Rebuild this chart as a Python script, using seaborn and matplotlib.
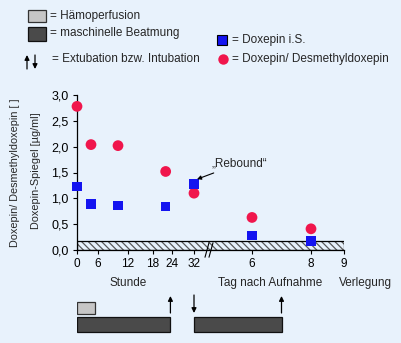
import numpy as np
import matplotlib
matplotlib.use("Agg")
import matplotlib.pyplot as plt
import seaborn as sns
from matplotlib.patches import Rectangle
from matplotlib.lines import Line2D

# time of each sample, in hours after admission (days 6 and 8 -> 144 h, 192 h)
time_h = [0, 4, 10, 22, 32, 144, 192]
doxepin_is = [1.23, 0.89, 0.86, 0.84, 1.28, 0.28, 0.18]
dox_desmethyl = [2.78, 2.04, 2.02, 1.52, 1.10, 0.63, 0.41]

# x tick labels (hours 0..32, then days 6, 8, 9)
tick_h = [0, 6, 12, 18, 24, 32, 144, 192, 216]
tick_labels = ["0", "6", "12", "18", "24", "32", "6", "8", "9"]
y_ticks = [0.0, 0.5, 1.0, 1.5, 2.0, 2.5, 3.0]

# treatment intervals (hours)
haemoperfusion = (0, 5)
ventilation = [(0, 23.5), (32, 168)]
extubation_h = [23.5, 168]
intubation_h = [32]

# broken axis: hours -> horizontal position
anchor_pos = [0, 21, 51, 76, 95, 117, 175, 234, 267]


def pos(h):
    return np.interp(h, tick_h, anchor_pos)


BG = "#E8F2FC"
RED = "#F0164C"
BLUE = "#1414F0"
DARK = "#4A4A4A"
LIGHT = "#C6C6C6"
FS = 8.5

sns.set_theme(style="white")
plt.rcParams["font.family"] = ["Liberation Sans", "DejaVu Sans"]
plt.rcParams["font.size"] = FS
plt.rcParams["hatch.linewidth"] = 0.9

W, H = 401, 343
fig = plt.figure(figsize=(W / 100, H / 100), dpi=100, facecolor=BG)


def fx(px):
    return px / W


def fy(py):
    return 1 - py / H


ax = fig.add_axes([fx(77), fy(250), 267 / W, 155 / H])
ax.set_facecolor("none")

# detection limit band
ax.add_patch(Rectangle((0, 0), 267, 0.17, facecolor="none",
                       edgecolor="#5a5a5a", hatch="\\" * 5, lw=0, zorder=1))
ax.add_patch(Rectangle((0, 0), 267, 0.17, facecolor="none",
                       edgecolor="black", lw=0.9, zorder=1))

sns.scatterplot(x=pos(time_h), y=dox_desmethyl, ax=ax, marker="o", s=60,
                color=RED, edgecolor="none", zorder=3, clip_on=False)
sns.scatterplot(x=pos(time_h), y=doxepin_is, ax=ax, marker="s", s=48,
                color=BLUE, edgecolor="none", zorder=3, clip_on=False)

ax.set_xlim(0, 267)
ax.set_ylim(0, 3.0)
ax.set_yticks(y_ticks)
ax.set_yticklabels([f"{v:.1f}".replace(".", ",") for v in y_ticks], fontsize=9)
ax.set_xticks(pos(tick_h))
ax.set_xticklabels(tick_labels, fontsize=FS)
for i, t in enumerate(ax.xaxis.get_major_ticks()):
    if i in (1, 2, 3, 4):
        t.tick1line.set_visible(False)
ax.tick_params(axis="both", direction="out", length=3, width=0.8, color="black",
               pad=3, left=True, bottom=True, labelcolor="black")
for s in ["top", "right"]:
    ax.spines[s].set_visible(False)
for s in ["left", "bottom"]:
    ax.spines[s].set_color("black")
    ax.spines[s].set_linewidth(0.9)

# axis break marks
for dx in (0, 4):
    ax.add_line(Line2D([128 + dx, 132 + dx], [-0.14, 0.14], color="black",
                       lw=0.8, clip_on=False, zorder=4))

ax.annotate("\u201eRebound\u201c", xy=(pos(32) + 3, 1.37), xytext=(pos(32) + 18, 1.68),
            fontsize=FS, ha="left", va="center",
            arrowprops=dict(arrowstyle="-|>", color="black", lw=0.8,
                            mutation_scale=6, shrinkA=1, shrinkB=0))

# axis titles
fig.text(fx(15), fy(173), "Doxepin/ Desmethyldoxepin [ ]", rotation=90,
         ha="center", va="center", fontsize=7.8)
fig.text(fx(36), fy(171), "Doxepin-Spiegel [\u00b5g/ml]", rotation=90,
         ha="center", va="center", fontsize=7.8)
fig.text(fx(128), fy(283), "Stunde", ha="center", va="center", fontsize=FS)
fig.text(fx(270), fy(283), "Tag nach Aufnahme", ha="center", va="center", fontsize=FS)
fig.text(fx(365), fy(283), "Verlegung", ha="center", va="center", fontsize=FS)

# treatment timeline below
axb = fig.add_axes([fx(77), fy(336), 267 / W, 46 / H])
axb.set_xlim(0, 267)
axb.set_ylim(336, 290)
axb.axis("off")
hp0, hp1 = pos(haemoperfusion)
axb.barh(308, hp1 - hp0, left=hp0, height=12, color=LIGHT, edgecolor="#333333", lw=0.9)
for a, b in ventilation:
    p0, p1 = pos([a, b])
    axb.barh(324.5, p1 - p0, left=p0, height=15, color=DARK, edgecolor="#111111", lw=0.9)
for h in extubation_h:
    axb.annotate("", xy=(pos(h), 296), xytext=(pos(h), 313),
                 arrowprops=dict(arrowstyle="-|>", color="black", lw=0.9,
                                 mutation_scale=7, shrinkA=0, shrinkB=0))
for h in intubation_h:
    axb.annotate("", xy=(pos(h), 313), xytext=(pos(h), 295),
                 arrowprops=dict(arrowstyle="-|>", color="black", lw=0.9,
                                 mutation_scale=7, shrinkA=0, shrinkB=0))

# legend at the top (drawn in pixel coordinates)
axl = fig.add_axes([0, 0, 1, 1])
axl.set_xlim(0, W)
axl.set_ylim(H, 0)
axl.axis("off")
axl.add_patch(Rectangle((28, 10), 18, 12, facecolor=LIGHT, edgecolor="#333333", lw=0.9))
axl.add_patch(Rectangle((28, 27), 18, 14, facecolor=DARK, edgecolor="#111111", lw=0.9))
axl.annotate("", xy=(27, 55), xytext=(27, 69),
             arrowprops=dict(arrowstyle="-|>", color="black", lw=0.9,
                             mutation_scale=7, shrinkA=0, shrinkB=0))
axl.annotate("", xy=(35, 69), xytext=(35, 55),
             arrowprops=dict(arrowstyle="-|>", color="black", lw=0.9,
                             mutation_scale=7, shrinkA=0, shrinkB=0))
axl.plot([222], [40], marker="s", ms=7, color=BLUE, mec="black", mew=0.8)
axl.plot([223], [59], marker="o", ms=7.5, color=RED, mec="none")
axl.text(50, 16, "= H\u00e4moperfusion", va="center", ha="left", fontsize=FS)
axl.text(50, 33, "= maschinelle Beatmung", va="center", ha="left", fontsize=FS)
axl.text(52, 59, "= Extubation bzw. Intubation", va="center", ha="left", fontsize=FS)
axl.text(232, 40, "= Doxepin i.S.", va="center", ha="left", fontsize=FS)
axl.text(232, 59, "= Doxepin/ Desmethyldoxepin", va="center", ha="left", fontsize=FS)

fig.savefig("out.png", dpi=100, facecolor=BG)
